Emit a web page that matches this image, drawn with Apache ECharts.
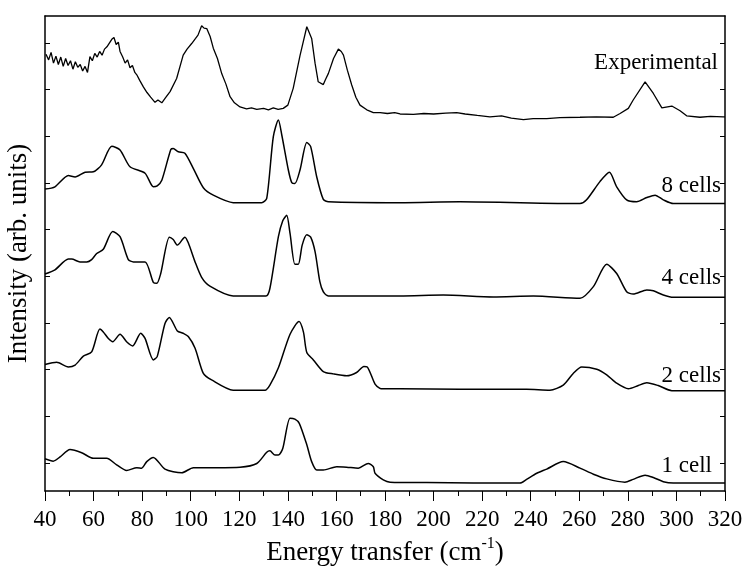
<!DOCTYPE html>
<html>
<head>
<meta charset="utf-8">
<script src="https://cdn.jsdelivr.net/npm/echarts@6/dist/echarts.min.js"></script>
<style>
  html, body { margin: 0; padding: 0; background: #fff; }
  #chart { width: 744px; height: 568px; }
</style>
</head>
<body>
<div id="chart"></div>
<script>
// energy transfer (cm-1) vs intensity, each curve measured from its own baseline
const experimental = [
  [40.4, 1.34], [41.5, 1.22], [42.5, 1.38], [43.5, 1.15], [44.5, 1.30], [45.5, 1.12], [46.5, 1.28],
  [47.5, 1.08], [48.5, 1.25], [49.5, 1.10], [50.5, 1.20], [51.5, 1.02], [52.5, 1.18], [53.5, 1.06],
  [54.5, 1.12], [55.5, 0.98], [56.5, 1.08], [57.5, 0.95], [58.5, 1.29], [59.5, 1.20], [60.5, 1.36],
  [61.5, 1.28], [62.5, 1.40], [63.5, 1.32], [64.5, 1.45], [65.5, 1.50], [66.5, 1.58], [67.5, 1.66],
  [68.4, 1.70], [69.3, 1.55], [70.2, 1.60], [70.9, 1.40], [72.0, 1.28], [73.0, 1.15], [74.0, 1.22],
  [75.0, 1.05], [76.0, 1.10], [77.0, 0.95], [77.8, 0.90], [79.0, 0.78], [80.5, 0.64], [82.0, 0.52],
  [83.5, 0.42], [85.3, 0.31], [86.5, 0.36], [88.1, 0.30], [89.5, 0.40], [91.5, 0.54], [94.2, 0.82],
  [96.9, 1.32], [98.5, 1.45], [100.4, 1.57], [102.0, 1.68], [103.0, 1.75], [104.5, 1.95], [105.5, 1.90],
  [106.6, 1.89], [108.0, 1.72], [109.3, 1.47], [111.0, 1.25], [112.8, 0.92], [114.5, 0.70], [116.2, 0.43],
  [118.0, 0.30], [120.3, 0.21], [123, 0.17], [125, 0.19], [127.2, 0.16], [130, 0.18], [132, 0.15],
  [134, 0.19], [136, 0.16], [138.1, 0.18], [140, 0.25], [142.2, 0.61], [145.0, 1.31], [147.8, 1.93],
  [149.8, 1.68], [151.2, 1.15], [152.5, 0.75], [154.6, 0.69], [155.5, 0.80], [156.7, 0.93], [158.8, 1.25],
  [160.8, 1.45], [162.0, 1.40], [162.9, 1.32], [164.5, 1.00], [166.3, 0.68], [168, 0.42], [169.7, 0.25],
  [172.5, 0.15], [175.2, 0.09], [178.0, 0.09], [181, 0.07], [184, 0.09], [186.2, 0.06], [191.7, 0.05],
  [196, 0.07], [200, 0.06], [205, 0.08], [209.5, 0.09], [213, 0.06], [218, 0.03], [223.2, 0],
  [228, 0.02], [232, -0.03], [237.0, -0.06], [241, -0.04], [246.6, -0.04], [252, -0.02], [260.3, -0.01],
  [267, 0], [274.0, -0.01], [276.8, 0.07], [280.2, 0.18], [282.2, 0.36], [287.1, 0.75], [290.5, 0.50],
  [294.0, 0.19], [298.1, 0.23], [301.5, 0.13], [304.2, 0.02], [309.7, -0.01], [314, 0.01], [319.3, 0], [320, 0]
];

const cells8 = [
  [40, 0.31], [44.1, 0.36], [49.6, 0.60], [52.4, 0.57], [56.5, 0.67], [59.9, 0.68], [63.3, 0.83],
  [67.5, 1.23], [70.9, 1.15], [75.0, 0.79], [81.2, 0.65], [84.6, 0.36], [86.2, 0.38], [88.1, 0.50],
  [91.8, 1.16], [92.8, 1.18], [94.9, 1.11], [97.6, 1.08], [101.1, 0.75], [105.2, 0.34], [109.3, 0.18],
  [117.5, 0.02], [129.2, 0.02], [131.3, 0.11], [134.0, 1.43], [136.1, 1.79], [137.5, 1.47], [140.2, 0.72],
  [141.6, 0.45], [142.9, 0.43], [145.0, 0.72], [147.8, 1.31], [149.4, 1.22], [151.9, 0.57], [154.6, 0.09],
  [156.7, 0.04], [186.2, 0.02], [210.9, 0.04], [260.3, 0], [263.0, 0.08], [268.5, 0.47], [272.4, 0.67],
  [275.4, 0.36], [279.5, 0.08], [283.6, 0.04], [287.8, 0.13], [291.2, 0.18], [294.6, 0.08], [298.7, 0], [320, 0]
];

const cells4 = [
  [40, 0.50], [44.1, 0.59], [49.6, 0.82], [51.0, 0.82], [54.4, 0.76], [57.2, 0.76], [59.2, 0.81],
  [61.3, 0.94], [64.0, 1.03], [67.9, 1.41], [70.9, 1.30], [74.3, 0.81], [76.4, 0.76], [81.2, 0.76],
  [84.6, 0.32], [86.0, 0.30], [87.6, 0.50], [91.2, 1.29], [92.8, 1.24], [94.5, 1.12], [97.6, 1.29],
  [99.0, 1.17], [101.8, 0.76], [104.5, 0.43], [107.9, 0.24], [117.5, 0.03], [131.0, 0.03], [132.6, 0.19],
  [136.1, 1.30], [137.9, 1.64], [139.5, 1.76], [140.9, 1.37], [142.9, 0.71], [144.3, 0.71], [145.9, 1.12],
  [147.8, 1.34], [149.4, 1.29], [151.2, 0.98], [153.2, 0.33], [154.6, 0.12], [156.7, 0.03], [186.2, 0.03],
  [204.0, 0.05], [224.6, 0.01], [241.1, 0.03], [260.3, -0.02], [265.8, 0.23], [271.3, 0.71], [275.4, 0.51],
  [279.5, 0.12], [282.2, 0.07], [287.8, 0.16], [290.5, 0.14], [294.6, 0.05], [298.7, 0], [320, 0]
];

const cells2 = [
  [40, 0.56], [44.8, 0.61], [49.6, 0.51], [52.4, 0.55], [55.8, 0.74], [59.2, 0.83], [62.6, 1.32],
  [64.0, 1.26], [66.1, 1.12], [67.9, 1.05], [70.9, 1.21], [73.6, 1.05], [76.1, 0.96], [79.4, 1.23],
  [81.2, 1.12], [84.6, 0.66], [86.2, 0.73], [89.4, 1.44], [91.2, 1.57], [94.5, 1.28], [96.9, 1.23],
  [99.0, 1.16], [101.8, 0.91], [105.2, 0.37], [108.6, 0.23], [117.5, 0.01], [130.6, 0.01], [132.6, 0.12],
  [136.1, 0.49], [140.9, 1.21], [144.6, 1.48], [146.4, 1.26], [147.8, 0.82], [150.5, 0.66], [154.6, 0.41],
  [158.7, 0.36], [164.2, 0.32], [168.3, 0.39], [171.3, 0.52], [172.7, 0.51], [175.9, 0.14], [177.9, 0.05],
  [179.3, 0.04], [186.2, 0.04], [210.9, 0.03], [238.3, 0.03], [247.9, 0.01], [253.4, 0.12], [257.5, 0.37],
  [261.0, 0.51], [267.2, 0.46], [271.3, 0.34], [275.4, 0.16], [280.2, 0.04], [284.3, 0.11], [287.8, 0.17],
  [292.5, 0.11], [298.1, 0], [320, 0]
];

const cells1 = [
  [40, 0.52], [43.4, 0.47], [46.2, 0.56], [50.3, 0.72], [55.1, 0.65], [59.9, 0.53], [65.4, 0.53],
  [69.5, 0.39], [73.6, 0.27], [77.8, 0.33], [79.8, 0.32], [81.9, 0.46], [84.6, 0.55], [89.4, 0.30],
  [96.3, 0.22], [101.1, 0.33], [110.7, 0.33], [120.3, 0.34], [127.2, 0.42], [131.3, 0.66], [132.6, 0.69],
  [134.7, 0.60], [136.1, 0.60], [137.9, 0.74], [140.9, 1.39], [142.9, 1.37], [144.7, 1.28], [147.8, 0.82],
  [149.8, 0.46], [151.9, 0.28], [154.6, 0.28], [160.1, 0.35], [164.2, 0.34], [169.0, 0.32], [173.1, 0.42],
  [175.2, 0.35], [175.9, 0.21], [179.3, 0.07], [182.1, 0.02], [197.2, 0.01], [235.6, 0], [238.3, 0.08],
  [242.5, 0.21], [246.6, 0.30], [253.4, 0.46], [260.3, 0.32], [265.8, 0.19], [271.3, 0.09], [278.8, 0.02],
  [282.2, 0.08], [287.1, 0.17], [290.5, 0.12], [294.6, 0.03], [298.7, 0], [320, 0]
];

const curveNames = ['Experimental', '8 cells', '4 cells', '2 cells', '1 cell'];
const curveData = [experimental, cells8, cells4, cells2, cells1];
const baselines = [7.42, 5.56, 3.55, 1.55, -0.43];
const yTicks = [0, 1, 2, 3, 4, 5, 6, 7, 8, 9];

const chart = echarts.init(document.getElementById('chart'));
const font = '"Liberation Serif", "Times New Roman", serif';

const series = curveData.map((d, i) => ({
  name: curveNames[i],
  type: 'line',
  data: d.map(p => [p[0], p[1] + baselines[i]]),
  symbol: 'none',
  smooth: i === 0 ? false : 0.25,
  lineStyle: { color: '#000', width: i === 0 ? 1.3 : 1.5 },
  silent: true
}));

const labelPos = [
  { x: 718, y: 63 }, { x: 721, y: 186 }, { x: 721, y: 278 }, { x: 721, y: 376 }, { x: 712, y: 466 }
];

const yAxisBase = {
  type: 'value',
  min: -0.6,
  max: 9.58,
  axisLine: { show: true, onZero: false, lineStyle: { color: '#000', width: 1.5 } },
  axisTick: { show: true, inside: true, length: 5, customValues: yTicks, lineStyle: { color: '#000' } },
  axisLabel: { show: false },
  splitLine: { show: false }
};

const option = {
  backgroundColor: '#fff',
  animation: false,
  grid: { left: 45, right: 19, top: 16, bottom: 77, containLabel: false, outerBoundsMode: 'none' },
  xAxis: [{
    type: 'value',
    min: 40,
    max: 320,
    interval: 20,
    name: 'Energy transfer (cm{sup|-1})',
    nameLocation: 'middle',
    nameGap: 45,
    nameTextStyle: {
      fontFamily: font, fontSize: 27, color: '#000',
      rich: { sup: { fontFamily: font, fontSize: 16, color: '#000', padding: [0, 0, 18, 0] } }
    },
    axisLine: { onZero: false, lineStyle: { color: '#000', width: 1.5 } },
    axisTick: { inside: false, length: 10, lineStyle: { color: '#000' } },
    minorTick: { show: true, splitNumber: 2, length: 5, lineStyle: { color: '#000' } },
    axisLabel: { fontFamily: font, fontSize: 23, color: '#000', margin: 17 },
    splitLine: { show: false }
  }, {
    type: 'value',
    position: 'top',
    min: 40,
    max: 320,
    axisLine: { show: true, onZero: false, lineStyle: { color: '#000', width: 1.5 } },
    axisTick: { show: false },
    axisLabel: { show: false },
    splitLine: { show: false }
  }],
  yAxis: [Object.assign({}, yAxisBase, {
    name: 'Intensity (arb. units)',
    nameLocation: 'middle',
    nameGap: 13,
    nameTextStyle: { fontFamily: font, fontSize: 27, color: '#000' }
  }), Object.assign({}, yAxisBase, { position: 'right' })],
  graphic: curveNames.map((t, i) => ({
    type: 'text',
    x: labelPos[i].x,
    y: labelPos[i].y,
    style: { text: t, font: '23px ' + font, fill: '#000', align: 'right', verticalAlign: 'middle' }
  })),
  series: series
};

option && chart.setOption(option);
</script>
</body>
</html>
